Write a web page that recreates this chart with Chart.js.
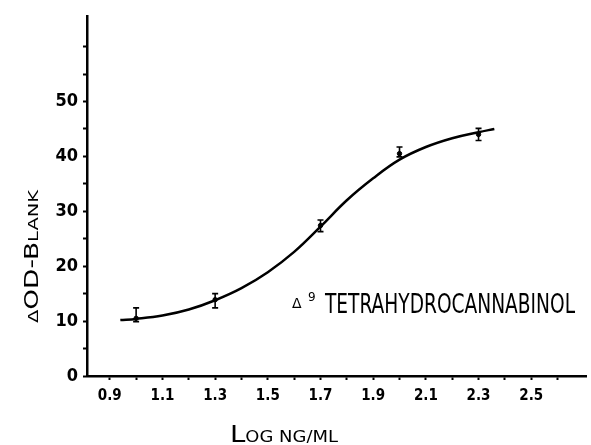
<!DOCTYPE html>
<html>
<head>
<meta charset="utf-8">
<script src="https://cdn.jsdelivr.net/npm/chart.js@4.4.0/dist/chart.umd.min.js"></script>
<style>
html, body { margin: 0; padding: 0; background: #fff; }
</style>
</head>
<body>
<canvas id="monGraphique" width="591" height="445"></canvas>
<script>
// points mesures (log ng/ml) avec barres d'erreur
const doses = [1.0, 1.3, 1.7, 2.0, 2.3];
const moyennes = [10.5, 13.9, 27.4, 40.5, 44.0];
const errBas = [9.9, 12.4, 26.3, 39.9, 42.9];
const errHaut = [12.4, 15.0, 28.4, 41.7, 45.1];

// courbe ajustee
const courbeX = [0.94, 1.0, 1.1, 1.2, 1.3, 1.4, 1.5, 1.6, 1.7, 1.8, 1.9, 2.0, 2.1, 2.2, 2.3, 2.36];
const courbeY = [10.2, 10.4, 11.0, 12.1, 13.8, 16.0, 18.9, 22.6, 27.2, 32.0, 36.0, 39.4, 41.7, 43.3, 44.4, 45.0];

// graduations
const xTicks = [0.9, 1.0, 1.1, 1.2, 1.3, 1.4, 1.5, 1.6, 1.7, 1.8, 1.9, 2.0, 2.1, 2.2, 2.3, 2.4, 2.5, 2.6];
const xLabels = ['0.9', '1.1', '1.3', '1.5', '1.7', '1.9', '2.1', '2.3', '2.5'];
const yTicks = [0, 5, 10, 15, 20, 25, 30, 35, 40, 45, 50, 55, 60];
const yLabels = ['0', '10', '20', '30', '40', '50'];

const tickFont = "'Liberation Sans Narrow', 'DejaVu Sans Condensed', sans-serif";
const titleFont = "'DejaVu Sans', sans-serif";

// dessine un texte en plusieurs tailles, ramene a une largeur donnee
function texteMixte(ctx, morceaux, x, y, largeur) {
    let total = 0;
    morceaux.forEach(m => {
        ctx.font = m.size + 'px ' + (m.family || titleFont);
        total += ctx.measureText(m.text).width;
    });
    ctx.save();
    ctx.translate(x, y);
    ctx.scale(largeur / total, 1);
    let cx = 0;
    morceaux.forEach(m => {
        ctx.font = m.size + 'px ' + (m.family || titleFont);
        ctx.fillText(m.text, cx, 0);
        cx += ctx.measureText(m.text).width;
    });
    ctx.restore();
}

const barresErreur = {
    id: 'barresErreur',
    afterDatasetsDraw(chart) {
        const ctx = chart.ctx;
        const sx = chart.scales.x, sy = chart.scales.y;
        ctx.save();
        ctx.strokeStyle = '#000';
        ctx.lineWidth = 1.6;
        doses.forEach((d, i) => {
            const px = sx.getPixelForValue(d);
            const y1 = sy.getPixelForValue(errBas[i]);
            const y2 = sy.getPixelForValue(errHaut[i]);
            ctx.beginPath();
            ctx.moveTo(px, y1); ctx.lineTo(px, y2);
            ctx.moveTo(px - 3, y1); ctx.lineTo(px + 3, y1);
            ctx.moveTo(px - 3, y2); ctx.lineTo(px + 3, y2);
            ctx.stroke();
        });
        ctx.restore();
    }
};

const textes = {
    id: 'textes',
    afterDraw(chart) {
        const ctx = chart.ctx;
        ctx.save();
        ctx.fillStyle = '#000';
        ctx.textBaseline = 'alphabetic';
        ctx.textAlign = 'left';

        // titre axe x (petites capitales)
        texteMixte(ctx, [
            { text: 'L', size: 23 },
            { text: 'OG NG/ML', size: 15 }
        ], 230, 442, 108);

        // titre axe y
        ctx.save();
        ctx.translate(38, 323);
        ctx.rotate(-Math.PI / 2);
        texteMixte(ctx, [
            { text: 'Δ', size: 14 },
            { text: 'OD-B', size: 19 },
            { text: 'LANK', size: 14 }
        ], 0, 0, 133);
        ctx.restore();

        // etiquette de la courbe
        ctx.font = '14px ' + titleFont;
        ctx.fillText('Δ', 292, 308);
        ctx.font = '12px ' + titleFont;
        ctx.fillText('9', 308, 301);
        ctx.font = '27px ' + tickFont;
        ctx.fillText('TETRAHYDROCANNABINOL', 325, 313, 250);
        ctx.restore();
    }
};

const ctx = document.getElementById('monGraphique').getContext('2d');

new Chart(ctx, {
    type: 'scatter',
    data: {
        datasets: [{
            label: 'courbe',
            data: courbeX.map((x, i) => ({ x: x, y: courbeY[i] })),
            showLine: true,
            borderColor: '#000',
            borderWidth: 2.5,
            pointRadius: 0,
            tension: 0.4
        }, {
            label: 'points',
            data: doses.map((x, i) => ({ x: x, y: moyennes[i] })),
            showLine: false,
            pointRadius: 2.2,
            pointBackgroundColor: '#000',
            pointBorderColor: '#000'
        }]
    },
    options: {
        responsive: false,
        animation: false,
        devicePixelRatio: 1,
        layout: { padding: { top: 10, right: 0, bottom: 0, left: 0 } },
        plugins: {
            legend: { display: false },
            tooltip: { enabled: false }
        },
        scales: {
            x: {
                type: 'linear',
                min: 0.8135,
                max: 2.708,
                afterBuildTicks: s => { s.ticks = xTicks.map(v => ({ value: v })); },
                afterFit: s => { s.height = 69; },
                ticks: {
                    autoSkip: false,
                    maxRotation: 0,
                    padding: 7,
                    color: '#000',
                    font: { family: tickFont, size: 15, weight: 'bold' },
                    callback: v => xLabels.includes(v.toFixed(1)) ? v.toFixed(1) : ''
                },
                grid: { drawOnChartArea: false, drawTicks: true, tickLength: 4, tickWidth: 2, tickColor: '#000' },
                border: { display: true, color: '#000', width: 2.5 }
            },
            y: {
                min: 0,
                max: 65.6,
                afterBuildTicks: s => { s.ticks = yTicks.map(v => ({ value: v })); },
                afterFit: s => { s.width = 87; },
                ticks: {
                    autoSkip: false,
                    padding: 5,
                    color: '#000',
                    font: { family: tickFont, size: 18, weight: 'bold' },
                    callback: v => yLabels.includes(String(v)) ? String(v) : ''
                },
                grid: { drawOnChartArea: false, drawTicks: true, tickLength: 4, tickWidth: 2, tickColor: '#000' },
                border: { display: true, color: '#000', width: 2.5 }
            }
        }
    },
    plugins: [barresErreur, textes]
});
</script>
</body>
</html>
